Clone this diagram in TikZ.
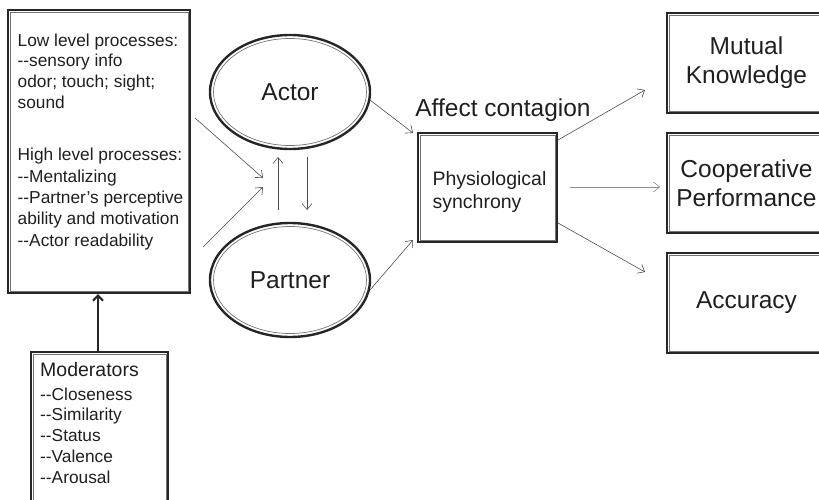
\documentclass[tikz,border=0pt]{standalone}
\usepackage{fontspec}
\setmainfont{Liberation Sans}
\usetikzlibrary{arrows.meta,shapes.geometric}
\newcommand\innerrect[1]{\draw[line width=0.7pt, black!55] ([xshift=3.3pt,yshift=-3.3pt]#1.north west) rectangle ([xshift=-3.3pt,yshift=3.3pt]#1.south east);}
\newcommand\innerell[1]{\draw[line width=0.7pt, black!55] (#1.center) ellipse [x radius=76.5pt, y radius=53.5pt];}
\newcommand\dd{-{}-}
\begin{document}
\begin{tikzpicture}[x=1pt,y=-1pt,
  outerbox/.style={draw=black!85, line width=2.4pt, inner sep=0pt, text=black!88, align=center},
  ellbox/.style={ellipse, draw=black!85, line width=2.4pt, minimum width=160pt, minimum height=114pt, inner sep=0pt, text=black!88, font=\fontsize{24.5}{29}\selectfont},
  txt/.style={inner sep=0pt, text=black!88},
  arr/.style={-{Straight Barb[length=6pt,width=10pt]}, line width=0.6pt, draw=black!70},
  thickarr/.style={-{Straight Barb[length=5pt,width=10pt]}, line width=2pt, draw=black!85}]
\useasboundingbox (0,0) rectangle (819,500);
\clip (0,0) rectangle (819,500);
% left box
\node[outerbox, minimum width=182pt, minimum height=283pt] (lbox) at (99,151.5) {};
\innerrect{lbox}
\node[txt, anchor=north west, align=left, font=\fontsize{17.3}{20.6}\selectfont] (ltext) at (17.5,33.5)
 {Low level processes:\\\dd sensory info\\odor; touch; sight;\\sound\\[32pt]High level processes:\\[0.8pt]\dd Mentalizing\\[0.8pt]\dd Partner’s perceptive\\[0.8pt]ability and motivation\\[0.8pt]\dd Actor readability};
% moderators
\node[outerbox, minimum width=137pt, minimum height=200pt, anchor=north west] (mod) at (30,351) {};
\innerrect{mod}
\node[txt, anchor=north west, align=left, font=\fontsize{17.3}{20.8}\selectfont] (modtext) at (40,362)
 {{\fontsize{19.5}{20.8}\selectfont Moderators}\\[3pt]\dd Closeness\\\dd Similarity\\\dd Status\\\dd Valence\\\dd Arousal};
\draw[thickarr] (mod.north -| 98,0) -- (lbox.south -| 98,0);
% ellipses
\node[ellbox] (actor) at (290,92) {Actor};
\innerell{actor}
\node[ellbox] (partner) at (290,280) {Partner};
\innerell{partner}
% physio
\node[outerbox, minimum width=139pt, minimum height=109pt] (phys) at (487.5,187.5) {};
\innerrect{phys}
\node[txt, align=left, font=\fontsize{19.5}{23}\selectfont] (phystext) at ([yshift=-4.5pt,xshift=2pt]phys.center) {Physiological\\synchrony};
\node[txt, font=\fontsize{24.5}{29}\selectfont] (affect) at (503,110) {Affect contagion};
% right boxes
\node[outerbox, minimum width=159pt, minimum height=100pt, font=\fontsize{24.5}{29}\selectfont] (mk) at (746.5,63) {Mutual\\Knowledge};
\innerrect{mk}
\node[outerbox, minimum width=159pt, minimum height=100pt, font=\fontsize{24.5}{29}\selectfont] (cp) at (746.5,183) {Cooperative\\Performance};
\innerrect{cp}
\node[outerbox, minimum width=159pt, minimum height=100pt, font=\fontsize{24.5}{29}\selectfont] (acc) at (746.5,303) {Accuracy};
\innerrect{acc}
% coordinates for free ends
\coordinate (l1) at (195,118);
\coordinate (l2) at (203,247);
\coordinate (m1) at (263,178);
\coordinate (m2) at (263,187);
\coordinate (upS) at (278,210);
\coordinate (upE) at (278,157);
\coordinate (dnS) at (307,157);
\coordinate (dnE) at (307,210);
\coordinate (aS) at (370,100);
\coordinate (aE) at (413,133);
\coordinate (pS) at (370,290);
\coordinate (pE) at (413,240);
\coordinate (o1S) at (558,140);
\coordinate (o1E) at (645,90);
\coordinate (o2S) at (570,187);
\coordinate (o2E) at (660,187);
\coordinate (o3S) at (558,223);
\coordinate (o3E) at (645,272);
% connectors
\draw[arr] (l1) -- (m1);
\draw[arr] (l2) -- (m2);
\draw[arr] (upS) -- (upE);
\draw[arr] (dnS) -- (dnE);
\draw[arr] (aS) -- (aE);
\draw[arr] (pS) -- (pE);
\draw[arr] (o1S) -- (o1E);
\draw[arr, draw=black!45] (o2S) -- (o2E);
\draw[arr] (o3S) -- (o3E);
\end{tikzpicture}
\end{document}
